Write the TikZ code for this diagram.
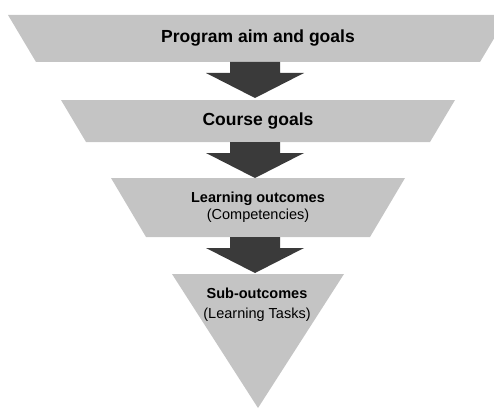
\documentclass[tikz,border=0pt]{standalone}
\usepackage{fontspec}
\setmainfont{Liberation Sans}
\begin{document}
\begin{tikzpicture}[x=1pt,y=-1pt,
  bandfill/.style={fill={rgb,255:red,196;green,196;blue,196}},
  arrowfill/.style={fill={rgb,255:red,58;green,58;blue,58}},
  bigtitle/.style={inner sep=0pt,anchor=base,font=\fontsize{17.5}{20}\selectfont\bfseries},
  smalltitle/.style={inner sep=0pt,anchor=base,font=\fontsize{14.5}{17}\selectfont\bfseries},
  subtitle/.style={inner sep=0pt,anchor=base,font=\fontsize{14.5}{17}\selectfont},
  blockarrow/.pic={
    \fill[arrowfill] (-25,0) -- (25,0) -- (25,11) -- (49,11) -- (0,36)
      -- (-49,11) -- (-25,11) -- cycle;
  }]
\useasboundingbox (0,0) rectangle (494,409);
\clip (0,0) rectangle (494,409);

% the four layers of the inverted pyramid
\fill[bandfill] (8,15) -- (508,15) -- (480,62) -- (36,62) -- cycle;
\fill[bandfill] (61,100) -- (455,100) -- (430,142) -- (86,142) -- cycle;
\fill[bandfill] (111,178) -- (405,178) -- (370,237) -- (146,237) -- cycle;
\fill[bandfill] (172,274) -- (344,274) -- (258,408) -- cycle;

% block arrows between the layers
\coordinate (a1) at (255,62);
\coordinate (a2) at (255,142);
\coordinate (a3) at (255,237);
\pic at (a1) {blockarrow};
\pic at (a2) {blockarrow};
\pic at (a3) {blockarrow};

% labels
\node[bigtitle] (aim) at (258,43) {Program aim and goals};
\node[bigtitle] (course) at (258,125) {Course goals};
\node[smalltitle] (lo) at (258,202) {Learning outcomes};
\node[subtitle] (comp) at (258,219) {(Competencies)};
\node[smalltitle] (sub) at (257,298) {Sub-outcomes};
\node[subtitle] (tasks) at (257,318) {(Learning Tasks)};
\end{tikzpicture}
\end{document}
